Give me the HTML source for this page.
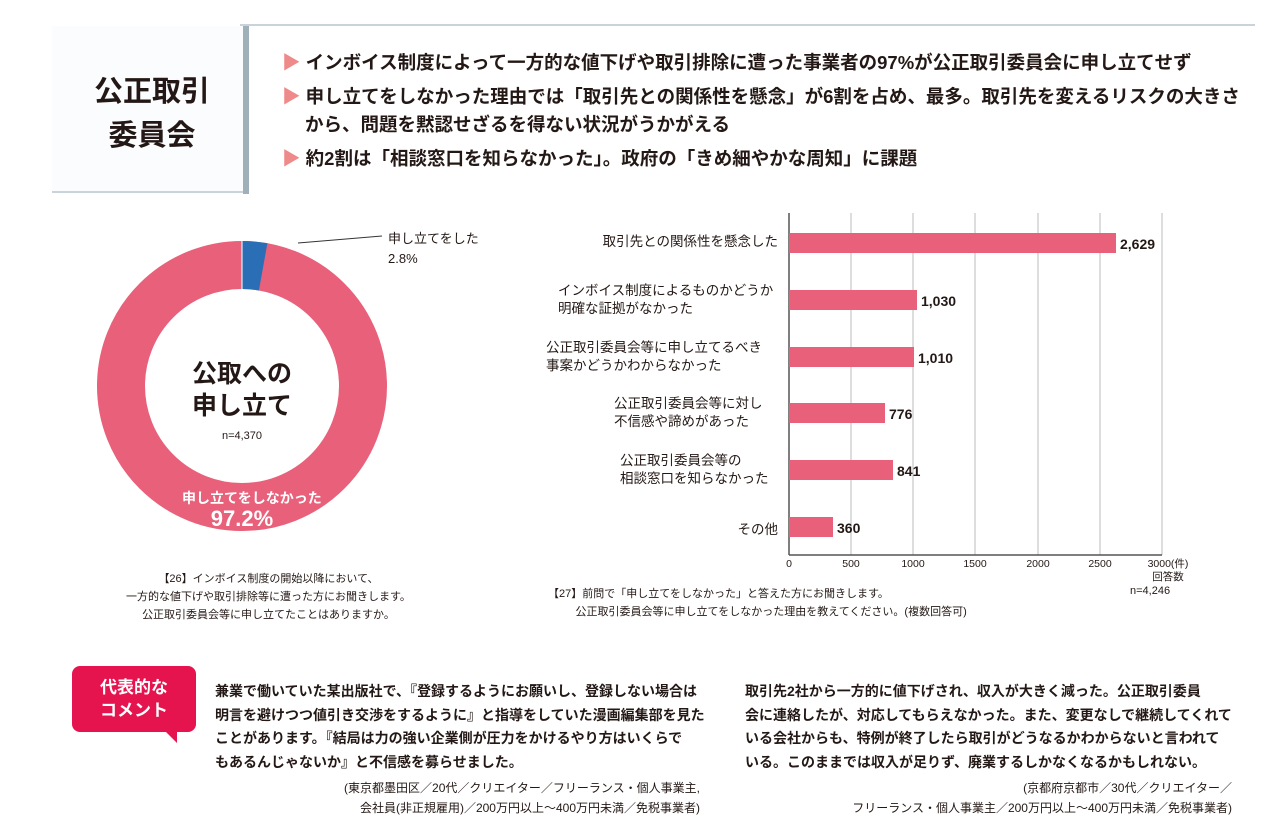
<!DOCTYPE html>
<html><head><meta charset="utf-8"><style>
body{margin:0;width:1280px;height:817px;background:#fff;position:relative;overflow:hidden;font-family:"Liberation Sans","Noto Sans CJK JP",sans-serif;color:#231815}
.a{position:absolute;white-space:nowrap}
.b{font-weight:bold}
</style></head><body>
<div class="a" style="left:240px;top:24px;width:1015px;height:2px;background:#c9d3da"></div>
<div class="a" style="left:52px;top:26px;width:191px;height:165px;background:#fbfcfd;border-bottom:2px solid #c9d3da"></div>
<div class="a" style="left:243px;top:26px;width:6px;height:168px;background:#9fb0bb"></div>
<div class="a b" style="left:82px;top:70px;font-size:29px;line-height:44px;text-align:center;width:140px">公正取引<br>委員会</div>
<div class="a b" style="left:282px;top:49px;font-size:18.5px;line-height:28px">
<div><span style="color:#ef8a8a">▶</span> インボイス制度によって一方的な値下げや取引排除に遭った事業者の97%が公正取引委員会に申し立てせず</div>
<div style="margin-top:6px"><span style="color:#ef8a8a">▶</span> 申し立てをしなかった理由では「取引先との関係性を懸念」が6割を占め、最多。取引先を変えるリスクの大きさ</div>
<div style="padding-left:23px">から、問題を黙認せざるを得ない状況がうかがえる</div>
<div style="margin-top:6px"><span style="color:#ef8a8a">▶</span> 約2割は「相談窓口を知らなかった」。政府の「きめ細やかな周知」に課題</div>
</div>
<svg class="a" style="left:0;top:0" width="1280" height="817">
<circle cx="242" cy="386" r="121" fill="none" stroke="#e8607a" stroke-width="48"/>
<path d="M242 241 A145 145 0 0 1 267.4 243.2 L258.9 290.5 A97 97 0 0 0 242 289 Z" fill="#2a6fb5"/>
<line x1="242" y1="241" x2="242" y2="289" stroke="#fff" stroke-width="1"/>
<line x1="298" y1="243" x2="382" y2="236" stroke="#333" stroke-width="1"/>
<g stroke="#bbb" stroke-width="1">
<line x1="851" y1="213" x2="851" y2="555"/><line x1="913" y1="213" x2="913" y2="555"/><line x1="975" y1="213" x2="975" y2="555"/><line x1="1038" y1="213" x2="1038" y2="555"/><line x1="1100" y1="213" x2="1100" y2="555"/><line x1="1162" y1="213" x2="1162" y2="555"/>
</g>
<line x1="789" y1="213" x2="789" y2="555" stroke="#555" stroke-width="1.5"/>
<line x1="789" y1="555" x2="1162" y2="555" stroke="#555" stroke-width="1.5"/>
<g fill="#e8607a">
<rect x="789" y="233" width="327" height="20"/><rect x="789" y="290" width="128" height="20"/><rect x="789" y="347" width="125" height="20"/><rect x="789" y="403" width="96" height="20"/><rect x="789" y="460" width="104" height="20"/><rect x="789" y="517" width="44" height="20"/>
</g>
<g font-size="14" font-weight="bold" fill="#231815">
<text x="1120" y="249">2,629</text><text x="921" y="306">1,030</text><text x="918" y="363">1,010</text><text x="889" y="419">776</text><text x="897" y="476">841</text><text x="837" y="533">360</text>
</g>
<g font-size="10.5" fill="#231815" text-anchor="middle">
<text x="789" y="567">0</text><text x="851" y="567">500</text><text x="913" y="567">1000</text><text x="975" y="567">1500</text><text x="1038" y="567">2000</text><text x="1100" y="567">2500</text><text x="1168" y="567">3000(件)</text><text x="1168" y="580">回答数</text>
</g>
</svg>
<div class="a b" style="left:182px;top:358px;text-align:center;font-size:25px;line-height:32px;width:120px">公取への<br>申し立て</div>
<div class="a" style="left:202px;top:430px;width:80px;text-align:center;font-size:11px">n=4,370</div>
<div class="a b" style="left:182px;top:488px;width:120px;text-align:center;font-size:14px;color:#fff">申し立てをしなかった</div>
<div class="a b" style="left:182px;top:506px;width:120px;text-align:center;font-size:22px;color:#fff">97.2%</div>
<div class="a" style="left:388px;top:229px;font-size:13px;line-height:20px">申し立てをした<br>2.8%</div>
<div class="a" style="left:126px;top:570px;font-size:11px;line-height:18px;text-align:center">【26】インボイス制度の開始以降において、<br>一方的な値下げや取引排除等に遭った方にお聞きします。<br>公正取引委員会等に申し立てたことはありますか。</div>
<div class="a" style="left:560px;top:233px;width:218px;text-align:right;font-size:13.5px;line-height:18px">取引先との関係性を懸念した</div>
<div class="a" style="left:558px;top:282px;font-size:13.5px;line-height:18px">インボイス制度によるものかどうか<br>明確な証拠がなかった</div>
<div class="a" style="left:546px;top:339px;font-size:13.5px;line-height:18px">公正取引委員会等に申し立てるべき<br>事案かどうかわからなかった</div>
<div class="a" style="left:614px;top:395px;font-size:13.5px;line-height:18px">公正取引委員会等に対し<br>不信感や諦めがあった</div>
<div class="a" style="left:620px;top:452px;font-size:13.5px;line-height:18px">公正取引委員会等の<br>相談窓口を知らなかった</div>
<div class="a" style="left:560px;top:518px;width:218px;text-align:right;font-size:13.5px">その他</div>
<div class="a" style="left:548px;top:585px;font-size:11px;line-height:18px">【27】前問で「申し立てをしなかった」と答えた方にお聞きします。<br>&nbsp;&nbsp;&nbsp;&nbsp;&nbsp;&nbsp;&nbsp;&nbsp;&nbsp;公正取引委員会等に申し立てをしなかった理由を教えてください。(複数回答可)</div>
<div class="a" style="left:1130px;top:585px;font-size:11px">n=4,246</div>
<div class="a" style="left:72px;top:666px;width:124px;height:66px;background:#e5134e;border-radius:8px"></div>
<div class="a" style="left:165px;top:731px;width:0;height:0;border-left:12px solid transparent;border-top:12px solid #e5134e"></div>
<div class="a b" style="left:72px;top:676px;width:124px;text-align:center;color:#fff;font-size:17px;line-height:23px">代表的な<br>コメント</div>
<div class="a b" style="left:215px;top:680px;font-size:14px;line-height:23.5px">兼業で働いていた某出版社で、『登録するようにお願いし、登録しない場合は<br>明言を避けつつ値引き交渉をするように』と指導をしていた漫画編集部を見た<br>ことがあります。『結局は力の強い企業側が圧力をかけるやり方はいくらで<br>もあるんじゃないか』と不信感を募らせました。</div>
<div class="a" style="left:300px;top:778px;width:400px;text-align:right;font-size:12px;line-height:20px">(東京都墨田区／20代／クリエイター／フリーランス・個人事業主,<br>会社員(非正規雇用)／200万円以上～400万円未満／免税事業者)</div>
<div class="a b" style="left:745px;top:680px;font-size:14px;line-height:23.5px">取引先2社から一方的に値下げされ、収入が大きく減った。公正取引委員<br>会に連絡したが、対応してもらえなかった。また、変更なしで継続してくれて<br>いる会社からも、特例が終了したら取引がどうなるかわからないと言われて<br>いる。このままでは収入が足りず、廃業するしかなくなるかもしれない。</div>
<div class="a" style="left:800px;top:778px;width:432px;text-align:right;font-size:12px;line-height:20px">(京都府京都市／30代／クリエイター／<br>フリーランス・個人事業主／200万円以上～400万円未満／免税事業者)</div>
</body></html>
